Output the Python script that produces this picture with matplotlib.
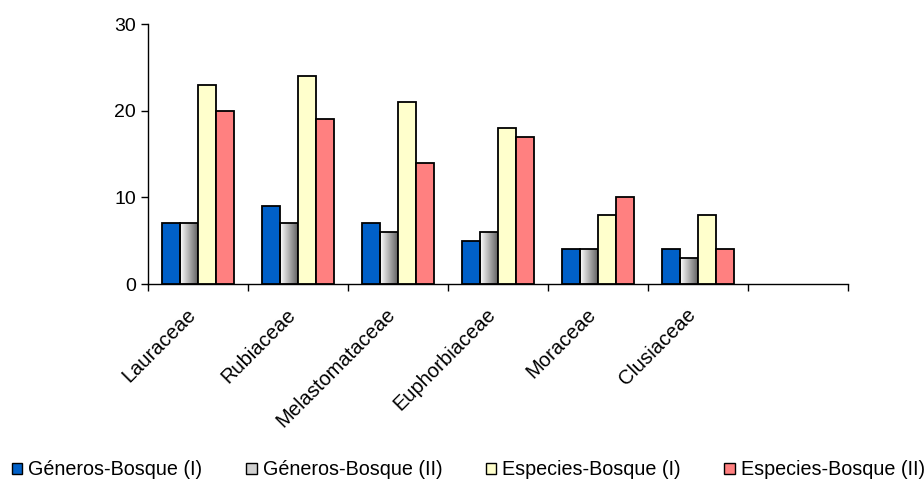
import numpy as np
import matplotlib
matplotlib.use("Agg")
import matplotlib.pyplot as plt
from matplotlib.patches import Patch
from matplotlib.colors import LinearSegmentedColormap

plt.rcParams["font.family"] = ["Liberation Sans", "DejaVu Sans"]

familias = ["Lauraceae", "Rubiaceae", "Melastomataceae", "Euphorbiaceae",
            "Moraceae", "Clusiaceae", ""]
generos_b1 = [7, 9, 7, 5, 4, 4, 0]
generos_b2 = [7, 7, 6, 6, 4, 3, 0]
especies_b1 = [23, 24, 21, 18, 8, 8, 0]
especies_b2 = [20, 19, 14, 17, 10, 4, 0]

series = [generos_b1, generos_b2, especies_b1, especies_b2]
nombres = ["Géneros-Bosque (I)", "Géneros-Bosque (II)",
           "Especies-Bosque (I)", "Especies-Bosque (II)"]
colores = ["#0060c8", "#d0d0d0", "#ffffcc", "#ff8080"]

fig = plt.figure(figsize=(9.24, 4.83), dpi=100)
ax = fig.add_axes([0.1602, 0.412, 0.7576, 0.538])

x = np.arange(len(familias)) + 0.5
w = 0.18
gris = LinearSegmentedColormap.from_list("gris", ["#ffffff", "#5a5a5a"])
grad = np.linspace(0, 1, 64).reshape(1, -1)

for i, vals in enumerate(series):
    pos = x - 2 * w + i * w + w / 2
    for xp, v in zip(pos, vals):
        if v == 0:
            continue
        if i == 1:
            ax.imshow(grad, cmap=gris, aspect="auto", zorder=2,
                      extent=[xp - w / 2, xp + w / 2, 0, v])
            ax.bar(xp, v, w, facecolor="none", edgecolor="black",
                   linewidth=1.3, zorder=3)
        else:
            ax.bar(xp, v, w, color=colores[i], edgecolor="black",
                   linewidth=1.3, zorder=3)

ax.set_xlim(0, len(familias))
ax.set_ylim(0, 30)
ax.set_yticks([0, 10, 20, 30])
ax.set_xticks(np.arange(len(familias) + 1))
ax.set_xticklabels([])
ax.tick_params(axis="both", direction="out", length=5, width=1,
               labelsize=14, colors="black")
for xp, lab in zip(x, familias):
    ax.text(xp - 0.12, -2.4, lab, rotation=45, ha="right", va="top",
            rotation_mode="anchor", fontsize=14.5)

for s in ["top", "right"]:
    ax.spines[s].set_visible(False)
ax.spines["left"].set_linewidth(1)
ax.spines["bottom"].set_linewidth(1)

handles = [Patch(facecolor=c, edgecolor="black", linewidth=1) for c in colores]
fig.legend(handles, nombres, loc="center left", bbox_to_anchor=(0.004, 0.027),
           ncol=4, frameon=False, fontsize=14.2, handlelength=0.55,
           handleheight=0.55, handletextpad=0.3, columnspacing=2.2,
           borderpad=0.1, borderaxespad=0.3)

fig.savefig("out.png", dpi=100)
